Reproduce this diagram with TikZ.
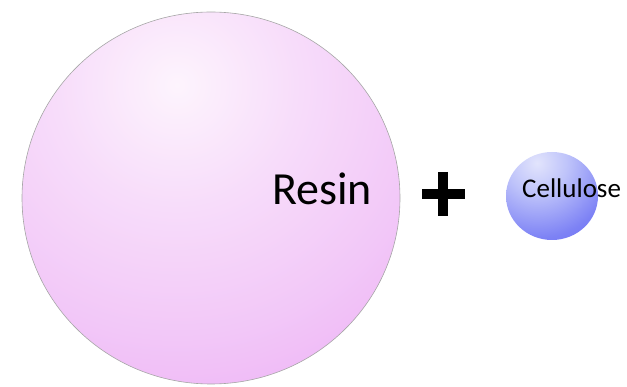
\documentclass[tikz,border=0pt]{standalone}
\usepackage{fontspec}
\setmainfont{Carlito}
\definecolor{resinlight}{RGB}{253,244,253}
\definecolor{resinpale}{RGB}{247,220,250}
\definecolor{resinmid}{RGB}{242,200,248}
\definecolor{resinlow}{RGB}{237,170,244}
\definecolor{resindark}{RGB}{232,155,243}
\definecolor{balllight}{RGB}{226,228,252}
\definecolor{ballpale}{RGB}{190,195,250}
\definecolor{ballmid}{RGB}{125,130,245}
\definecolor{balldark}{RGB}{82,84,238}
\pgfdeclareradialshading{resinshade}{\pgfpointorigin}{color(0bp)=(resinlight); color(10bp)=(resinpale); color(20bp)=(resinmid); color(32bp)=(resinlow); color(44bp)=(resindark); color(50bp)=(resindark)}
\pgfdeclareradialshading{ballshade}{\pgfpointorigin}{color(0bp)=(balllight); color(9bp)=(ballpale); color(22bp)=(ballmid); color(40bp)=(balldark); color(50bp)=(balldark)}
\begin{document}
\begin{tikzpicture}[x=1pt,y=-1pt]
\useasboundingbox (0,0) rectangle (627,387);
% resin
\begin{scope}
\clip (211,198) ellipse (189 and 186);
\shade[shading=resinshade] (177,85) circle (310);
\end{scope}
\draw[black!35,line width=0.6pt] (211,198) ellipse (189 and 186);
% cellulose
\begin{scope}
\clip (552,196) ellipse (46 and 44);
\shade[shading=ballshade] (537,163) circle (85);
\end{scope}
\draw[line width=10pt] (422,194) -- (465,194) (443,172) -- (443,216);
\node[anchor=base west,inner sep=0pt,font=\fontsize{46}{50}\selectfont] (resin) at (272,205) {Resin};
\node[anchor=base west,inner sep=0pt,font=\fontsize{27}{30}\selectfont] (cellulose) at (522,198) {Cellulose};
\end{tikzpicture}
\end{document}
